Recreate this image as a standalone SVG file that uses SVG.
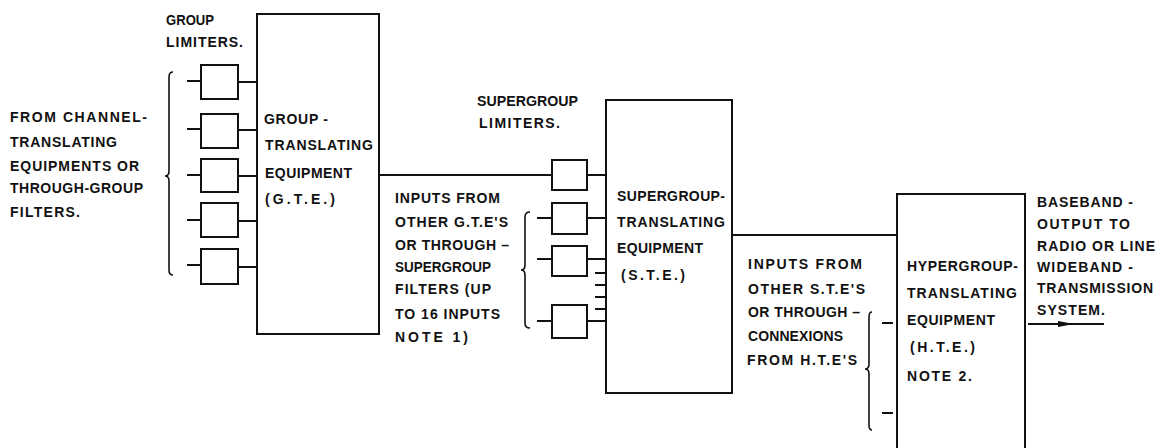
<svg xmlns="http://www.w3.org/2000/svg" width="1167" height="448" viewBox="0 0 1167 448">
<style>
  .t { font-family: "Liberation Sans", Arial, sans-serif; font-size: 14px; font-weight: bold; fill: #111; }
  .box { fill: none; stroke: #111; stroke-width: 2; }
  .ln { fill: none; stroke: #111; stroke-width: 2; }
  .br { fill: none; stroke: #111; stroke-width: 1.6; }
</style>
<defs>
  <marker id="arr" markerWidth="16" markerHeight="8" refX="16" refY="4" orient="auto" markerUnits="userSpaceOnUse" viewBox="0 0 16 8">
    <path d="M0,1 L16,4 L0,7 Z" fill="#111"/>
  </marker>
</defs>
<rect width="1167" height="448" fill="#fff"/>

<!-- Left input text -->
<g id="input-channel">
  <text class="t" x="10" y="122" textLength="137">FROM CHANNEL-</text>
  <text class="t" x="10" y="147" textLength="107">TRANSLATING</text>
  <text class="t" x="10" y="171" textLength="129">EQUIPMENTS OR</text>
  <text class="t" x="10" y="193" textLength="133">THROUGH-GROUP</text>
  <text class="t" x="10" y="217" textLength="70">FILTERS.</text>
  <path class="br" d="M173,72 Q169,72 169,77 L169,171 Q169,176 165,176 Q169,176 169,181 L169,270 Q169,275 173,275"/>
</g>

<!-- Group limiters -->
<g id="group-limiters">
  <text class="t" x="166" y="25" textLength="48" lengthAdjust="spacingAndGlyphs">GROUP</text>
  <text class="t" x="166" y="47" textLength="77">LIMITERS.</text>
  <rect class="box" x="201" y="65" width="37" height="34"/>
  <rect class="box" x="201" y="114" width="37" height="34"/>
  <rect class="box" x="201" y="159" width="37" height="33"/>
  <rect class="box" x="201" y="203" width="37" height="34"/>
  <rect class="box" x="201" y="249" width="37" height="35"/>
</g>

<!-- GTE -->
<g id="gte">
  <rect class="box" x="257" y="14" width="122" height="320"/>
  <text class="t" x="264" y="124" textLength="64">GROUP -</text>
  <text class="t" x="265" y="150" textLength="108">TRANSLATING</text>
  <text class="t" x="265" y="178" textLength="87">EQUIPMENT</text>
  <text class="t" x="265" y="204" textLength="70">(G.T.E.)</text>
</g>

<!-- Supergroup limiters -->
<g id="supergroup-limiters">
  <text class="t" x="477" y="106" textLength="101" lengthAdjust="spacingAndGlyphs">SUPERGROUP</text>
  <text class="t" x="479" y="128" textLength="81">LIMITERS.</text>
  <rect class="box" x="552" y="160" width="35" height="30"/>
  <rect class="box" x="552" y="203" width="35" height="31"/>
  <rect class="box" x="552" y="246" width="35" height="30"/>
  <rect class="box" x="552" y="305" width="35" height="33"/>
</g>

<!-- Inputs from other GTEs -->
<g id="input-gte">
  <text class="t" x="395" y="203" textLength="105">INPUTS FROM</text>
  <text class="t" x="395" y="227" textLength="113">OTHER G.T.E'S</text>
  <text class="t" x="395" y="250" textLength="114">OR THROUGH –</text>
  <text class="t" x="395" y="272" textLength="96" lengthAdjust="spacingAndGlyphs">SUPERGROUP</text>
  <text class="t" x="395" y="294" textLength="96">FILTERS (UP</text>
  <text class="t" x="395" y="319" textLength="105">TO 16 INPUTS</text>
  <text class="t" x="395" y="342" textLength="73">NOTE 1)</text>
  <path class="br" d="M530,212 Q525,212 525,217 L525,265 Q525,270 521,270 Q525,270 525,275 L525,323 Q525,328 530,328"/>
</g>

<!-- STE -->
<g id="ste">
  <rect class="box" x="606" y="100" width="126" height="293"/>
  <text class="t" x="617" y="201" textLength="108">SUPERGROUP-</text>
  <text class="t" x="617" y="227" textLength="108">TRANSLATING</text>
  <text class="t" x="617" y="253" textLength="86">EQUIPMENT</text>
  <text class="t" x="621" y="280" textLength="64">(S.T.E.)</text>
</g>

<!-- Inputs from other STEs -->
<g id="input-ste">
  <text class="t" x="748" y="269" textLength="114">INPUTS FROM</text>
  <text class="t" x="748" y="294" textLength="117">OTHER S.T.E'S</text>
  <text class="t" x="748" y="317" textLength="112">OR THROUGH –</text>
  <text class="t" x="748" y="341" textLength="95">CONNEXIONS</text>
  <text class="t" x="747" y="365" textLength="110">FROM H.T.E'S</text>
  <path class="br" d="M872,312 Q869,312 869,317 L869,364 Q869,369 865,369 Q869,369 869,374 L869,425 Q869,430 872,430"/>
</g>

<!-- HTE -->
<g id="hte">
  <path class="box" d="M897,450 L897,194 L1025,194 L1025,450"/>
  <text class="t" x="907" y="271" textLength="111">HYPERGROUP-</text>
  <text class="t" x="907" y="298" textLength="110">TRANSLATING</text>
  <text class="t" x="907" y="325" textLength="88">EQUIPMENT</text>
  <text class="t" x="910" y="352" textLength="65">(H.T.E.)</text>
  <text class="t" x="907" y="381" textLength="65">NOTE 2.</text>
</g>

<!-- Output text -->
<g id="output">
  <text class="t" x="1037" y="207" textLength="96">BASEBAND -</text>
  <text class="t" x="1037" y="229" textLength="93">OUTPUT TO</text>
  <text class="t" x="1037" y="251" textLength="118">RADIO OR LINE</text>
  <text class="t" x="1037" y="272" textLength="96">WIDEBAND -</text>
  <text class="t" x="1037" y="293" textLength="116">TRANSMISSION</text>
  <text class="t" x="1037" y="315" textLength="68">SYSTEM.</text>
</g>

<!-- Connectors -->
<g id="connectors">
  <path class="ln" d="M187,81 H201 M187,129 H201 M187,175 H201 M187,220 H201 M187,265 H201"/>
  <path class="ln" d="M238,82 H257 M238,130 H257 M238,176 H257 M238,221 H257 M238,267 H257"/>
  <path class="ln" d="M379,175 H552"/>
  <path class="ln" d="M537,218 H552 M537,259 H552 M537,321 H552"/>
  <path class="ln" d="M587,175 H606 M587,218 H606 M587,259 H606 M587,321 H606"/>
  <path class="ln" d="M595,273 H606 M595,285 H606 M595,297 H606 M595,309 H606"/>
  <path class="ln" d="M732,235 H897"/>
  <path class="ln" d="M882,323 H893 M882,413 H893"/>
  <path class="ln" d="M1028,324 H1074" marker-end="url(#arr)"/>
  <path class="ln" d="M1072,324 H1104"/>
</g>
</svg>
